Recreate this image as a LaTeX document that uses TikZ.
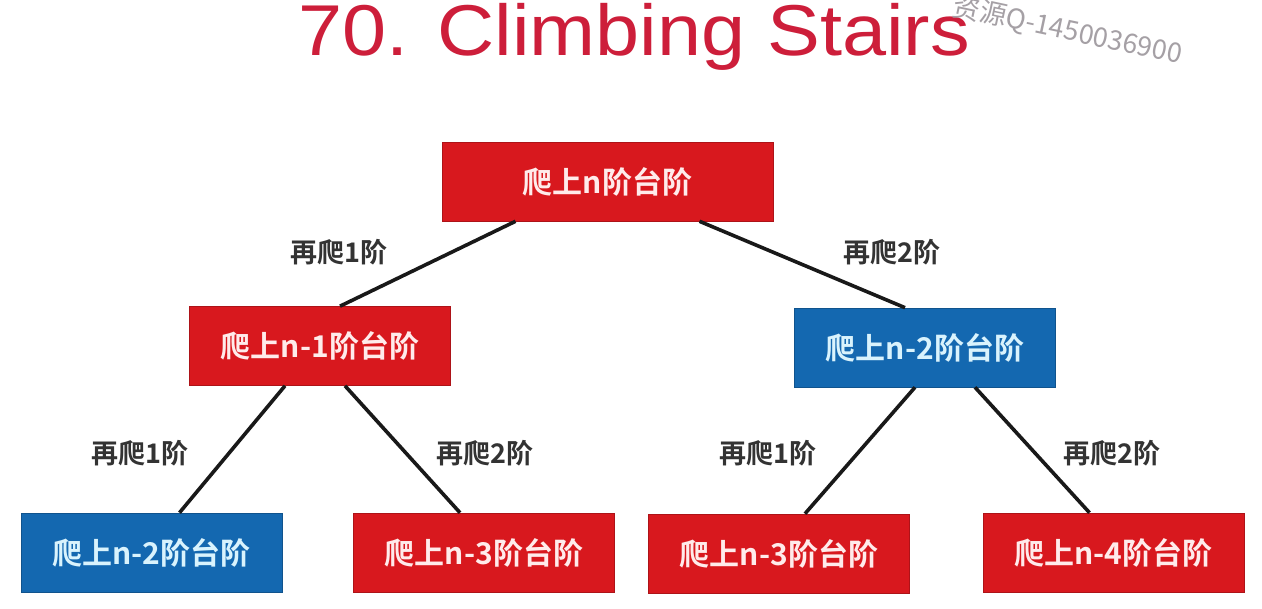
\documentclass[tikz,border=0pt]{standalone}
\usepackage{fontspec}
\setmainfont{Liberation Sans}
\newfontfamily\cjk{Noto Sans CJK SC}
\newfontfamily\cjkb{Noto Sans CJK SC Bold}
\definecolor{titlered}{RGB}{205,30,58}
\definecolor{boxred}{RGB}{216,24,30}
\definecolor{boxblue}{RGB}{20,104,176}
\definecolor{wm}{RGB}{165,160,165}
\begin{document}
\begin{tikzpicture}[x=1pt,y=-1pt,
  stepred/.style={draw=boxred!80!black,line width=0.6pt,fill=boxred,minimum width=261pt,minimum height=79pt,inner sep=0pt,text=red!8!white,font=\cjkb\fontsize{30}{30}\selectfont},
  stepblue/.style={stepred,draw=boxblue!80!black,fill=boxblue,text=cyan!15!white},
  edge/.style={line width=3.6pt,black!90},
  lbl/.style={font=\cjkb\fontsize{27}{27}\selectfont,text=black!80,inner sep=0pt}]
\useasboundingbox (0,0) rectangle (1262,609);
\fill[white] (0,0) rectangle (1262,609);
\node[text=titlered,font=\fontsize{72}{72}\selectfont,xscale=1.1,anchor=base] (title) at (634,56) {70. Climbing Stairs};
\node[text=wm,font=\cjk\fontsize{27}{27}\selectfont,rotate=-12,anchor=west] (wmark) at (950,6) {资源Q-1450036900};
\node[stepred,minimum width=331pt] (n) at (607.5,181.5) {爬上n阶台阶};
\node[stepred] (n1) at (320,346) {爬上n-1阶台阶};
\node[stepblue] (n2) at (925,347.5) {爬上n-2阶台阶};
\node[stepblue] (a) at (151.5,552.5) {爬上n-2阶台阶};
\node[stepred] (b) at (484,552.5) {爬上n-3阶台阶};
\node[stepred] (c) at (779,553.5) {爬上n-3阶台阶};
\node[stepred] (d) at (1113.5,552.5) {爬上n-4阶台阶};
\draw[edge] ([xshift=-92pt]n.south) -- ([xshift=20pt]n1.north);
\draw[edge] ([xshift=92pt]n.south) -- ([xshift=-20pt]n2.north);
\draw[edge] ([xshift=-35pt]n1.south) -- ([xshift=28pt]a.north);
\draw[edge] ([xshift=25pt]n1.south) -- ([xshift=-24pt]b.north);
\draw[edge] ([xshift=-10pt]n2.south) -- ([xshift=26pt]c.north);
\draw[edge] ([xshift=50pt]n2.south) -- ([xshift=-24pt]d.north);
\node[lbl] (l1) at (339,252) {再爬1阶};
\node[lbl] (l2) at (892,252) {再爬2阶};
\node[lbl] (l3) at (140,453) {再爬1阶};
\node[lbl] (l4) at (485,453) {再爬2阶};
\node[lbl] (l5) at (768,453) {再爬1阶};
\node[lbl] (l6) at (1112,453) {再爬2阶};
\end{tikzpicture}
\end{document}
